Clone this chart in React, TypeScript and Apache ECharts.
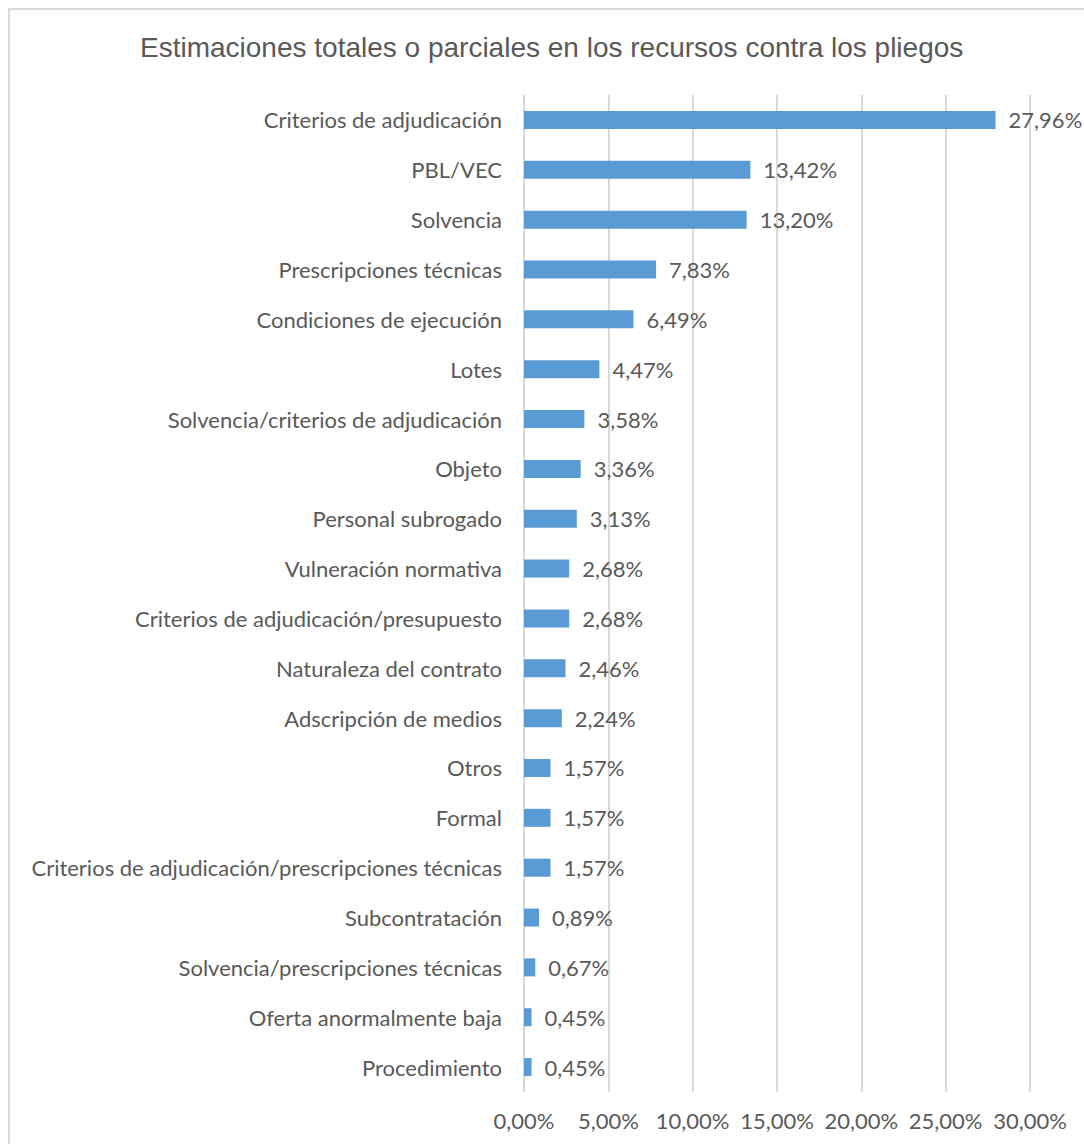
import React, { useEffect, useRef } from "react";
import * as echarts from "echarts";

const titleText = "Estimaciones totales o parciales en los recursos contra los pliegos";

const categories = [
  "Criterios de adjudicación",
  "PBL/VEC",
  "Solvencia",
  "Prescripciones técnicas",
  "Condiciones de ejecución",
  "Lotes",
  "Solvencia/criterios de adjudicación",
  "Objeto",
  "Personal subrogado",
  "Vulneración normativa",
  "Criterios de adjudicación/presupuesto",
  "Naturaleza del contrato",
  "Adscripción de medios",
  "Otros",
  "Formal",
  "Criterios de adjudicación/prescripciones técnicas",
  "Subcontratación",
  "Solvencia/prescripciones técnicas",
  "Oferta anormalmente baja",
  "Procedimiento",
];

const values = [
  27.96, 13.42, 13.2, 7.83, 6.49, 4.47, 3.58, 3.36, 3.13, 2.68, 2.68, 2.46, 2.24,
  1.57, 1.57, 1.57, 0.89, 0.67, 0.45, 0.45,
];

const xTicks = { min: 0, max: 30, interval: 5 };

const fmt = (v: number) => v.toFixed(2).replace(".", ",") + "%";

export default function App() {
  const ref = useRef<HTMLDivElement>(null);
  useEffect(() => {
    if (!ref.current) return;
    const chart = echarts.init(ref.current, undefined, { renderer: "svg" });
    const labelFont = "Lato, 'Open Sans', sans-serif";
    chart.setOption({
      animation: false,
      backgroundColor: "#ffffff",
      title: {
        text: titleText,
        left: 135,
        top: 28,
        textStyle: {
          fontFamily: "'Liberation Sans', Arial, sans-serif",
          fontSize: 28,
          fontWeight: "normal",
          color: "#595959",
        },
      },
      graphic: [
        {
          type: "rect",
          shape: { x: 9, y: 9, width: 1200, height: 1300 },
          style: { fill: "none", stroke: "#d9d9d9", lineWidth: 2 },
          silent: true,
        },
      ],
      grid: { left: 524, right: 54, top: 95, bottom: 52, containLabel: false },
      xAxis: {
        type: "value",
        min: xTicks.min,
        max: xTicks.max,
        interval: xTicks.interval,
        axisLine: { show: false },
        axisTick: { show: false },
        splitLine: { show: true, lineStyle: { color: "#d9d9d9", width: 2 } },
        axisLabel: {
          formatter: (v: number) => fmt(v),
          color: "#595959",
          fontSize: 22,
          fontFamily: labelFont,
          margin: 17,
        },
      },
      yAxis: {
        type: "category",
        data: categories,
        inverse: true,
        axisLine: { show: false },
        axisTick: { show: false },
        axisLabel: {
          color: "#595959",
          fontSize: 22,
          fontFamily: labelFont,
          margin: 22,
        },
      },
      series: [
        {
          type: "bar",
          data: values,
          barWidth: 18,
          itemStyle: { color: "#5b9bd5" },
          label: {
            show: true,
            position: "right",
            distance: 13,
            formatter: (p: any) => fmt(p.value),
            color: "#595959",
            fontSize: 22,
            fontFamily: labelFont,
          },
        },
      ],
    });
    return () => chart.dispose();
  }, []);
  return (
    <div
      ref={ref}
      style={{ position: "absolute", left: 0, top: 0, width: 1084, height: 1144 }}
    />
  );
}
